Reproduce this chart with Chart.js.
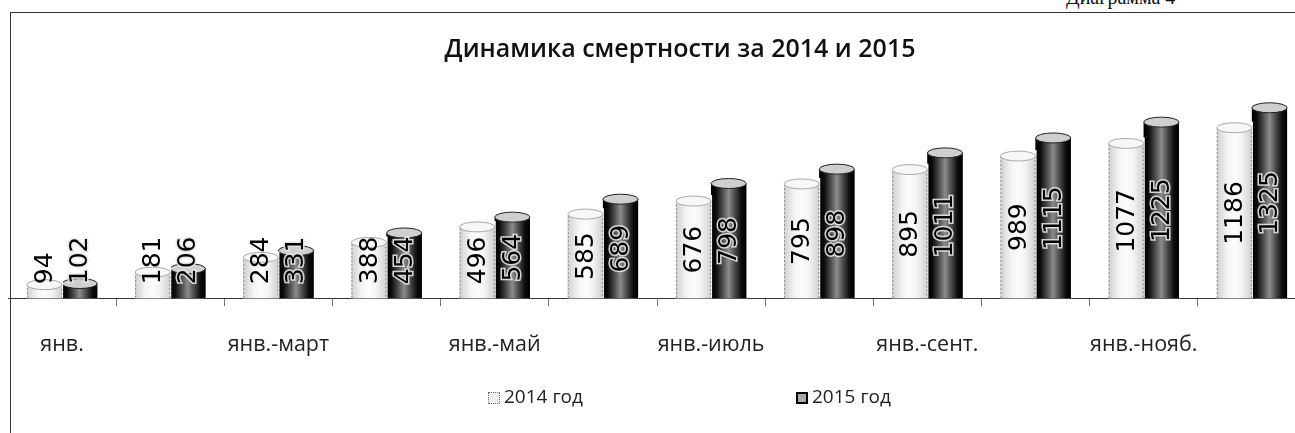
<!DOCTYPE html>
<html>
<head>
<meta charset="utf-8">
<script src="https://cdn.jsdelivr.net/npm/chart.js@4"></script>
<style>
  html, body { margin: 0; padding: 0; background: #fff; overflow: hidden; }
  body { width: 1295px; height: 433px; position: relative; }
  #frame { position: absolute; left: 10px; top: 12px; width: 1300px; height: 440px;
           border-left: 1px solid #333; border-top: 1px solid #333; }
  #caption { position: absolute; left: 1066px; top: -14px; font: 20px "Liberation Serif", serif; color: #111; }
  #wrap { position: absolute; left: 8px; top: 12px; width: 1344px; height: 372px; }
  #legend { position: absolute; top: 384px; left: 0; width: 1295px; height: 24px;
            font: 19px "Open Sans", sans-serif; color: #222; }
  .item { position: absolute; top: 0; line-height: 24px; }
  .box { display: inline-block; width: 10px; height: 10px; margin-right: 4px; vertical-align: -1px; }
</style>
</head>
<body>
<div id="caption">Диаграмма 4</div>
<div id="frame"></div>
<div id="wrap"><canvas id="deathChart"></canvas></div>
<div id="legend"></div>

<script>
/* data */
const categories = [
    "янв.", "янв.-февр.", "янв.-март", "янв.-апр.",
    "янв.-май", "янв.-июнь", "янв.-июль", "янв.-авг.",
    "янв.-сент.", "янв.-окт.", "янв.-нояб.", "янв.-дек."
];
const seriesNames = ["2014 год", "2015 год"];
const deaths2014 = [94, 181, 284, 388, 496, 585, 676, 795, 895, 989, 1077, 1186];
const deaths2015 = [102, 206, 331, 454, 564, 689, 798, 898, 1011, 1115, 1225, 1325];

/* cylinders drawn over the bars */
const cylinders = {
    id: "cylinders",
    afterDatasetDraw(chart, args) {
        const ctx = chart.ctx;
        const dark = args.index === 1;
        args.meta.data.forEach(bar => {
            const p = bar.getProps(["x", "y", "base", "width"], true);
            const left = p.x - p.width / 2;
            const g = ctx.createLinearGradient(left, 0, left + p.width, 0);
            if (dark) {
                g.addColorStop(0, "#000");
                g.addColorStop(0.14, "#0c0c0c");
                g.addColorStop(0.32, "#4a4a4a");
                g.addColorStop(0.5, "#8c8c8c");
                g.addColorStop(0.68, "#4a4a4a");
                g.addColorStop(0.86, "#0c0c0c");
                g.addColorStop(1, "#000");
            } else {
                g.addColorStop(0, "#d0d0d0");
                g.addColorStop(0.3, "#f4f4f4");
                g.addColorStop(0.5, "#fcfcfc");
                g.addColorStop(0.7, "#f4f4f4");
                g.addColorStop(1, "#d0d0d0");
            }
            ctx.save();
            ctx.fillStyle = "#fff";
            ctx.fillRect(left - 1, p.y - 6, p.width + 2, p.base - p.y + 6);
            ctx.fillStyle = g;
            ctx.fillRect(left, p.y, p.width, p.base - p.y);
            ctx.strokeStyle = dark ? "#000" : "#888";
            ctx.lineWidth = 1;
            if (!dark) ctx.setLineDash([2, 2]);
            ctx.beginPath();
            ctx.moveTo(left + 0.5, p.base);
            ctx.lineTo(left + 0.5, p.y);
            ctx.moveTo(left + p.width - 0.5, p.y);
            ctx.lineTo(left + p.width - 0.5, p.base);
            ctx.stroke();
            ctx.setLineDash([]);
            ctx.beginPath();
            ctx.ellipse(p.x, p.y, p.width / 2, 5, 0, 0, Math.PI * 2);
            ctx.fillStyle = dark ? "#cfcfcf" : "#f7f7f7";
            ctx.fill();
            ctx.strokeStyle = dark ? "#222" : "#aaa";
            ctx.stroke();
            ctx.restore();
        });
    }
};

/* vertical value labels */
const valueLabels = {
    id: "valueLabels",
    afterDatasetsDraw(chart) {
        const ctx = chart.ctx;
        ctx.save();
        ctx.font = "25px 'DejaVu Sans'";
        ctx.textAlign = "center";
        ctx.textBaseline = "middle";
        chart.data.datasets.forEach((ds, di) => {
            chart.getDatasetMeta(di).data.forEach((bar, i) => {
                const p = bar.getProps(["x", "y", "base"], true);
                const text = String(ds.data[i]);
                const w = ctx.measureText(text).width;
                const cy = Math.min((p.y + p.base) / 2, p.base - 14 - w / 2);
                ctx.save();
                ctx.translate(p.x + 1, cy);
                ctx.rotate(-Math.PI / 2);
                if (di === 1) {
                    ctx.strokeStyle = "rgba(230,230,230,0.9)";
                    ctx.lineWidth = 3;
                    ctx.strokeText(text, 0, 0);
                }
                ctx.fillStyle = "#000";
                ctx.fillText(text, 0, 0);
                ctx.restore();
            });
        });
        ctx.restore();
    }
};

new Chart(
    document.getElementById("deathChart"),
    {
        type: "bar",
        data: {
            labels: categories,
            datasets: [
                { label: seriesNames[0], data: deaths2014, backgroundColor: "#f0f0f0" },
                { label: seriesNames[1], data: deaths2015, backgroundColor: "#333" }
            ]
        },
        options: {
            responsive: true,
            maintainAspectRatio: false,
            animation: false,
            layout: { padding: 0 },
            datasets: { bar: { categoryPercentage: 0.65, barPercentage: 1 } },
            plugins: {
                legend: { display: false },
                tooltip: { enabled: false },
                title: {
                    display: true,
                    text: "Динамика смертности за 2014 и 2015",
                    color: "#111",
                    font: { family: "'Open Sans'", size: 25, weight: "600" },
                    padding: { top: 23, bottom: 32 }
                }
            },
            scales: {
                x: {
                    grid: { drawOnChartArea: false, drawTicks: true, tickLength: 8, color: "#777" },
                    border: { display: true, color: "#333", dash: [4, 2] },
                    ticks: {
                        autoSkip: false,
                        maxRotation: 0,
                        padding: 26,
                        color: "#222",
                        font: { family: "'Open Sans'", size: 21.5 },
                        callback: (v, i) => i % 2 === 0 ? categories[i] : ""
                    }
                },
                y: { display: false, min: 0, max: 1400 },
                // empty strip on the right, keeps the plot off-centre like the original
                side: {
                    type: "linear",
                    position: "right",
                    grid: { display: false },
                    border: { display: false },
                    ticks: { display: false },
                    afterFit(scale) { scale.width = 46; }
                }
            }
        },
        plugins: [cylinders, valueLabels]
    }
);

/* legend */
const legend = document.getElementById("legend");
const legendPos = [488, 796];
const boxStyles = [
    "border:1px dotted #666;background:#eee;",
    "border:2px solid #000;background:#aaa;width:8px;height:8px;"
];
seriesNames.forEach((name, i) => {
    const el = document.createElement("span");
    el.className = "item";
    el.style.left = legendPos[i] + "px";
    el.innerHTML = '<span class="box" style="' + boxStyles[i] + '"></span>' + name;
    legend.appendChild(el);
});
</script>
</body>
</html>
